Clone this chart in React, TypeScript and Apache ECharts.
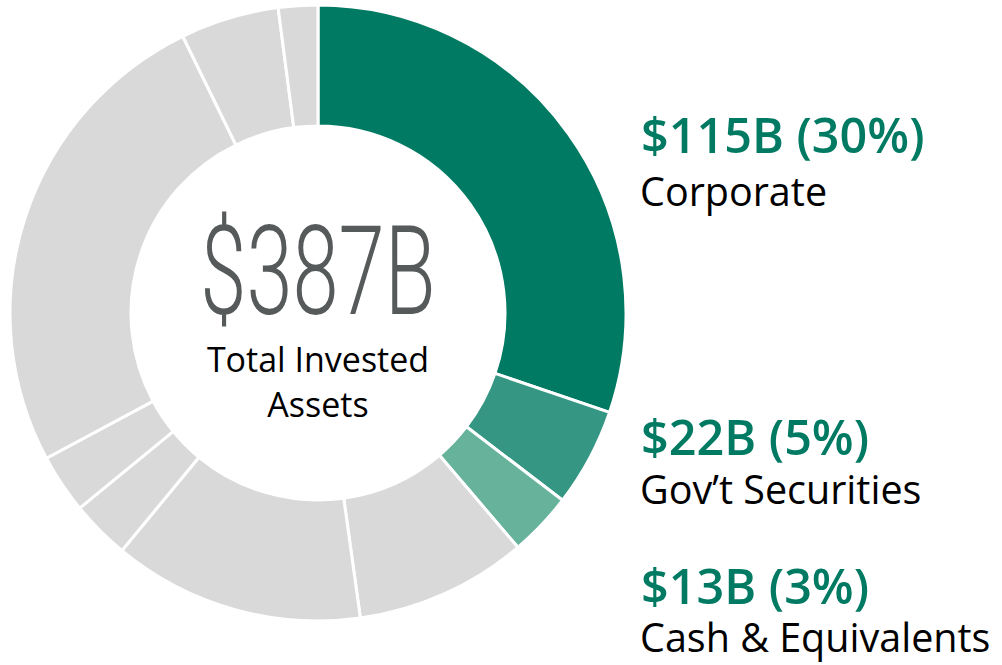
import React, { useEffect, useRef } from "react";
import * as echarts from "echarts";

const categories = [
  "Corporate",
  "Gov’t Securities",
  "Cash & Equivalents",
  "Other 1",
  "Other 2",
  "Other 3",
  "Other 4",
  "Other 5",
  "Other 6",
  "Other 7",
];
const values = [117, 20, 13, 35, 51, 12, 12, 99, 20, 8];
const sliceColors = [
  "#007A62",
  "#359683",
  "#67B29B",
  "#D9D9D9",
  "#D9D9D9",
  "#D9D9D9",
  "#D9D9D9",
  "#D9D9D9",
  "#D9D9D9",
  "#D9D9D9",
];
const totalLabel = "$387B";
const totalCaption = ["Total Invested", "Assets"];
const highlightAmounts = ["$115B (30%)", "$22B (5%)", "$13B (3%)"];
const highlightNames = ["Corporate", "Gov’t Securities", "Cash & Equivalents"];

export default function App() {
  const ref = useRef<HTMLDivElement>(null);
  useEffect(() => {
    document.body.style.margin = "0";
    const chart = echarts.init(ref.current!, null, { renderer: "svg" });
    const cx = 318;
    const cy = 313;
    const groupY = [134, 435.5, 584.5];
    const nameY = [191, 489, 637];
    const labelFont = "'Open Sans', 'Noto Sans', sans-serif";
    const graphics: any[] = [
      {
        type: "text",
        x: cx,
        y: 272,
        scaleX: 0.67,
        style: {
          text: totalLabel,
          fontFamily: "Roboto, sans-serif",
          fontWeight: 300,
          fontSize: 124,
          fill: "#575A5A",
          align: "center",
          verticalAlign: "middle",
        },
      },
      ...totalCaption.map((t, i) => ({
        type: "text",
        x: cx,
        y: 359 + i * 45,
        style: {
          text: t,
          fontFamily: labelFont,
          fontSize: 34,
          fill: "#000",
          align: "center",
          verticalAlign: "middle",
        },
      })),
    ];
    highlightAmounts.forEach((t, i) => {
      graphics.push({
        type: "text",
        x: 641,
        y: groupY[i],
        style: {
          text: t,
          fontFamily: labelFont,
          fontWeight: 600,
          fontSize: 48.5,
          fill: "#007A62",
          align: "left",
          verticalAlign: "middle",
        },
      });
      graphics.push({
        type: "text",
        x: 640,
        y: nameY[i],
        style: {
          text: highlightNames[i],
          fontFamily: labelFont,
          fontSize: 39.5,
          fill: "#000",
          align: "left",
          verticalAlign: "middle",
        },
      });
    });
    chart.setOption({
      animation: false,
      backgroundColor: "#fff",
      series: [
        {
          type: "pie",
          center: [cx, cy],
          radius: [187, 308],
          startAngle: 90,
          clockwise: true,
          silent: true,
          label: { show: false },
          labelLine: { show: false },
          itemStyle: { borderColor: "#fff", borderWidth: 3 },
          data: categories.map((name, i) => ({
            name,
            value: values[i],
            itemStyle: { color: sliceColors[i] },
          })),
        },
      ],
      graphic: graphics,
    });
    return () => chart.dispose();
  }, []);
  return (
    <div
      ref={ref}
      style={{ position: "absolute", left: 0, top: 0, width: 1002, height: 665 }}
    />
  );
}
